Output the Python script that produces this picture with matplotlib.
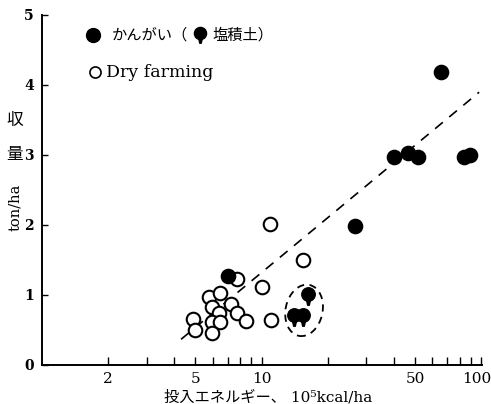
import numpy as np
import matplotlib
matplotlib.use("Agg")
import matplotlib.pyplot as plt
from matplotlib.path import Path
from matplotlib.patches import Ellipse
from matplotlib import transforms
from matplotlib.ticker import FixedLocator, NullFormatter, FixedFormatter

# irrigated (かんがい)
irr_x = [7.07, 26.6, 40.0, 46.4, 51.5, 65.7, 83.6, 89.0]
irr_y = [1.27, 1.99, 2.97, 3.03, 2.97, 4.18, 2.97, 3.00]

# irrigated, saline soil (塩積土)
sal_x = [14.0, 15.4, 16.2]
sal_y = [0.71, 0.71, 1.01]

# dry farming
dry_x = [7.77, 10.0, 5.79, 6.50, 5.97, 7.29, 6.43, 7.77, 4.89, 5.97,
         6.50, 8.54, 5.00, 5.97, 10.9, 15.4, 11.0]
dry_y = [1.23, 1.11, 0.97, 1.03, 0.83, 0.87, 0.74, 0.74, 0.66, 0.61,
         0.61, 0.63, 0.50, 0.46, 2.01, 1.50, 0.64]

# regression line y = a + b*log10(x)
fit_a, fit_b = -1.28, 2.6
fit_range = [4.3, 98.0]

major_ticks = [2, 5, 10, 50, 100]
minor_ticks = [2, 3, 4, 5, 6, 7, 8, 9, 10, 20, 30, 40, 50, 60, 70, 80, 90, 100]

JP = ['DejaVu Serif', 'Noto Sans CJK JP']

# filled circle with a short stem below (saline soil marker)
stem = Path([(-0.3, -0.8), (-0.12, -1.6), (0.12, -1.6), (0.3, -0.8), (0, 0)],
            [Path.MOVETO, Path.LINETO, Path.LINETO, Path.LINETO, Path.CLOSEPOLY])
stem_marker = Path.make_compound_path(Path.unit_circle(), stem)

fig = plt.figure(figsize=(4.91, 4.04), dpi=100)
ax = fig.add_axes([42 / 491, 39 / 404, 440 / 491, 350 / 404])
ax.set_xscale('log')
ax.set_xlim(1, 101)
ax.set_ylim(0, 5)

for s in ['top', 'right']:
    ax.spines[s].set_visible(False)
for s in ['left', 'bottom']:
    ax.spines[s].set_linewidth(1.4)

ax.xaxis.set_major_locator(FixedLocator(minor_ticks))
ax.xaxis.set_minor_locator(FixedLocator([]))
ax.xaxis.set_major_formatter(FixedFormatter(
    [str(t) if t in major_ticks else '' for t in minor_ticks]))
ax.xaxis.set_minor_formatter(NullFormatter())
ax.set_yticks([0, 1, 2, 3, 4, 5])
ax.tick_params(axis='x', direction='in', length=6, width=1, pad=5,
               labelsize=11)
ax.tick_params(axis='y', direction='in', length=4, width=1, pad=6,
               labelsize=10)
for lab in ax.get_xticklabels():
    lab.set_family('DejaVu Serif')
for lab in ax.get_yticklabels():
    lab.set_family('DejaVu Serif')
    lab.set_fontweight('bold')
# keep "100" inside the figure
last = ax.get_xticklabels()[-1]
last.set_transform(last.get_transform() +
                   transforms.ScaledTranslation(-0.04, 0, fig.dpi_scale_trans))

# regression line
lx = np.array(fit_range)
ax.plot(lx, fit_a + fit_b * np.log10(lx), color='black', lw=1.2,
        dashes=(6, 5))

ax.scatter(dry_x, dry_y, s=95, facecolor='white', edgecolor='black',
           linewidth=1.5, zorder=3)
ax.scatter(irr_x, irr_y, s=105, color='black', zorder=4)
ax.plot(sal_x, sal_y, ls='none', marker=stem_marker, ms=15.5,
        color='black', zorder=4)

# dashed ellipse around saline points
cx = 10 ** np.mean(np.log10(sal_x)) * 1.03
cy = np.mean(sal_y) - 0.03
trans = fig.dpi_scale_trans + transforms.ScaledTranslation(cx, cy, ax.transData)
ax.add_patch(Ellipse((0, 0), 0.37, 0.52, angle=-12, transform=trans,
                     fill=False, ls=(0, (4, 3)), lw=1.3, color='black'))

# legend drawn by hand
ax.plot([0.116], [0.943], 'o', ms=10, color='black', transform=ax.transAxes,
        clip_on=False)
ax.text(0.158, 0.943, 'かんがい（', transform=ax.transAxes, va='center',
        ha='left', fontsize=11, family=JP)
ax.plot([0.358], [0.948], ls='none', marker=stem_marker, ms=14,
        color='black', transform=ax.transAxes, clip_on=False)
ax.text(0.388, 0.943, '塩積土）', transform=ax.transAxes, va='center',
        ha='left', fontsize=11, family=JP)
ax.plot([0.121], [0.837], 'o', ms=8, mfc='white', mec='black', mew=1.2,
        transform=ax.transAxes, clip_on=False)
ax.text(0.146, 0.837, 'Dry farming', transform=ax.transAxes, va='center',
        ha='left', fontsize=12.5, family='DejaVu Serif')

# axis labels
fig.text(15 / 491, 1 - 120 / 404, '収', ha='center', va='center',
         fontsize=12, family=JP)
fig.text(15 / 491, 1 - 155 / 404, '量', ha='center', va='center',
         fontsize=12, family=JP)
fig.text(15 / 491, 1 - 207 / 404, 'ton/ha', ha='center', va='center',
         rotation=90, fontsize=10.5, family=JP)
fig.text(268 / 491, 1 - 397 / 404, '投入エネルギー、 10⁵kcal/ha',
         ha='center', va='center', fontsize=11, family=JP)

fig.savefig('out.png', dpi=100)
